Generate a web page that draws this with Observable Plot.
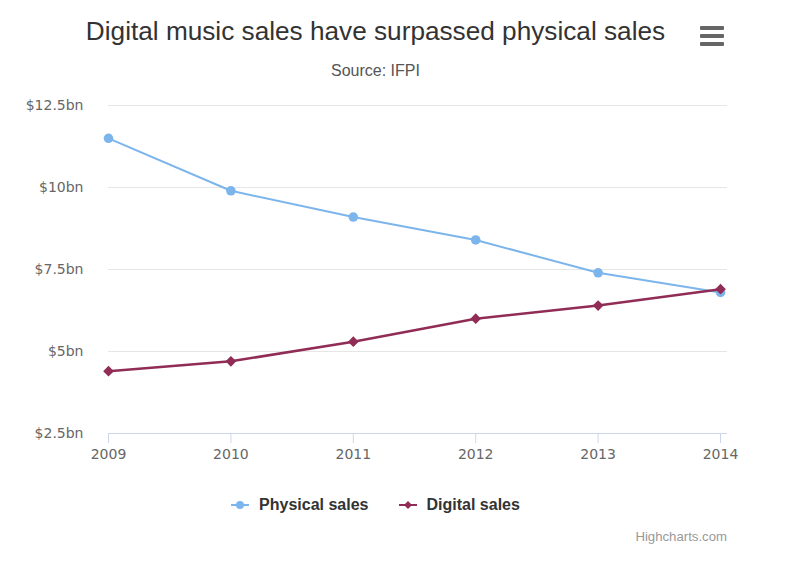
<!DOCTYPE html>
<html>
<head>
<meta charset="utf-8">
<script src="https://cdn.jsdelivr.net/npm/d3@7"></script>
<script src="https://cdn.jsdelivr.net/npm/@observablehq/plot@0.6"></script>
<style>
  html, body { margin: 0; padding: 0; background: #fff; }
  #wrap { position: relative; width: 800px; height: 561px; overflow: hidden; font-family: "Liberation Sans", Arial, sans-serif; }
  #title { position: absolute; left: 0; width: 751px; top: 16px; text-align: center; font-size: 26.2px; color: #333; white-space: nowrap; }
  #subtitle { position: absolute; left: 0; width: 751px; top: 62px; text-align: center; font-size: 16px; color: #555; }
  #menu { position: absolute; left: 700px; top: 26px; width: 24px; }
  #menu div { height: 4px; background: #666; margin-bottom: 4px; border-radius: 1px; }
  #chart { position: absolute; left: 0; top: 90px; }
  #legend { position: absolute; left: 0; width: 751px; top: 495px; text-align: center; font-size: 16px; font-weight: bold; color: #333; white-space: nowrap; }
  #legend span.item { display: inline-block; margin: 0 15px; vertical-align: middle; }
  #legend svg { vertical-align: middle; margin-right: 10px; position: relative; top: -1px; }
  #credit { position: absolute; right: 73px; top: 529px; font-size: 13.2px; color: #999; }
</style>
</head>
<body>
<div id="wrap">
  <div id="title">Digital music sales have surpassed physical sales</div>
  <div id="subtitle">Source: IFPI</div>
  <div id="menu"><div></div><div></div><div></div></div>
  <div id="chart"></div>
  <div id="legend"></div>
  <div id="credit">Highcharts.com</div>
</div>
<script>
const years = [2009, 2010, 2011, 2012, 2013, 2014];
const physical = [11.5, 9.9, 9.1, 8.4, 7.4, 6.8];
const digital = [4.4, 4.7, 5.3, 6.0, 6.4, 6.9];
const seriesNames = ["Physical sales", "Digital sales"];
const seriesColors = ["#7cb5ec", "#902c55"];
const yTicks = [2.5, 5, 7.5, 10, 12.5];

const rows = [];
years.forEach((y, i) => {
  rows.push({year: y, value: physical[i], series: seriesNames[0]});
  rows.push({year: y, value: digital[i], series: seriesNames[1]});
});
const phys = rows.filter(d => d.series === seriesNames[0]);
const dig = rows.filter(d => d.series === seriesNames[1]);

const chart = Plot.plot({
  width: 800,
  height: 380,
  marginLeft: 108,
  marginRight: 73,
  marginTop: 15,
  marginBottom: 37,
  style: {fontFamily: "DejaVu Sans, sans-serif", fontSize: "14px", color: "#666", background: "transparent"},
  x: {type: "linear", domain: [2009, 2014.057]},
  y: {domain: [2.5, 12.5]},
  marks: [
    Plot.gridY(yTicks, {stroke: "#e6e6e6", strokeOpacity: 1}),
    Plot.ruleY([2.5], {stroke: "#ccd6eb"}),
    Plot.axisY(yTicks, {tickSize: 0, tickPadding: 25, tickFormat: d => "$" + d + "bn", fill: "#666", fontSize: 14, label: null}),
    Plot.axisX(years, {tickSize: 10, stroke: "#ccd6eb", strokeOpacity: 1, tickPadding: 6, tickFormat: d => String(d), fill: "#666", fontSize: 14, label: null}),
    Plot.line(phys, {x: "year", y: "value", stroke: seriesColors[0], strokeWidth: 2}),
    Plot.dot(phys, {x: "year", y: "value", fill: seriesColors[0], r: 4.8, symbol: "circle"}),
    Plot.line(dig, {x: "year", y: "value", stroke: seriesColors[1], strokeWidth: 2.5}),
    Plot.dot(dig, {x: "year", y: "value", fill: seriesColors[1], r: 4.8, symbol: "diamond2"})
  ]
});
document.getElementById("chart").appendChild(chart);

const legend = document.getElementById("legend");
seriesNames.forEach((name, i) => {
  const item = document.createElement("span");
  item.className = "item";
  const marker = i === 0
    ? `<circle cx="9" cy="6" r="4" fill="${seriesColors[i]}"/>`
    : `<path d="M9 2 L13 6 L9 10 L5 6 Z" fill="${seriesColors[i]}"/>`;
  item.innerHTML = `<svg width="18" height="12"><line x1="0" y1="6" x2="18" y2="6" stroke="${seriesColors[i]}" stroke-width="2"/>${marker}</svg>${name}`;
  legend.appendChild(item);
});
</script>
</body>
</html>
